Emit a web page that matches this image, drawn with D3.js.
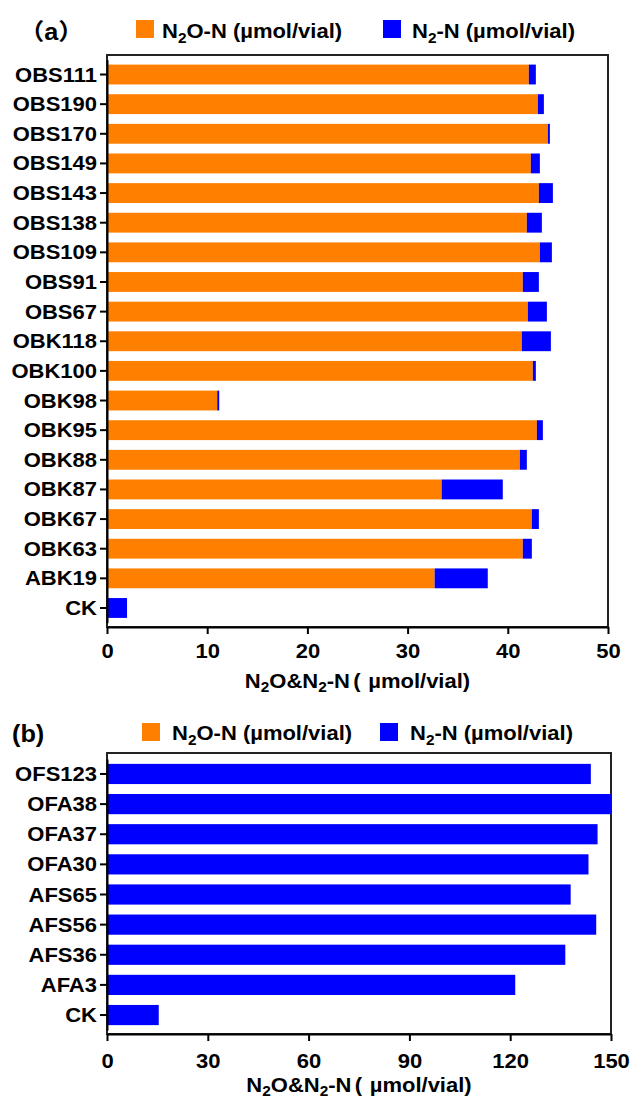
<!DOCTYPE html>
<html>
<head>
<meta charset="utf-8">
<script src="https://cdn.jsdelivr.net/npm/d3@7"></script>
<style>
html,body{margin:0;padding:0;background:#fff;}
text{font-family:"Liberation Sans",Arial,"Noto Sans CJK SC",sans-serif;font-weight:bold;fill:#000;}
</style>
</head>
<body>
<svg id="chart" width="632" height="1100"></svg>
<script>
// ---------- data ----------
const catsA = ["OBS111","OBS190","OBS170","OBS149","OBS143","OBS138","OBS109","OBS91","OBS67","OBK118","OBK100","OBK98","OBK95","OBK88","OBK87","OBK67","OBK63","ABK19","CK"];
const n2oA  = [42.1,43.0,44.0,42.3,43.1,41.9,43.2,41.5,42.0,41.4,42.5,11.0,42.9,41.2,33.4,42.4,41.5,32.7,0];
const n2A   = [0.7,0.6,0.2,0.9,1.4,1.5,1.2,1.6,1.9,2.9,0.3,0.2,0.6,0.7,6.1,0.7,0.9,5.3,2.0];
const ticksA = [0,10,20,30,40,50];

const catsB = ["OFS123","OFA38","OFA37","OFA30","AFS65","AFS56","AFS36","AFA3","CK"];
const n2oB  = [0,0,0,0,0,0,0,0,0];
const n2B   = [144.0,150.0,146.0,143.3,138.0,145.6,136.4,121.5,15.4];
const ticksB = [0,30,60,90,120,150];

const seriesKeys = ["N2O","N2"];
const colors = {N2O:"#FF8000", N2:"#0000FF"};

// ---------- drawing ----------
const svg = d3.select("#chart");
const SX = 1.1; // horizontal stretch of the lettering
const FS = 20;

function stretchText(t, x, y, anchor){
  t.attr("x",0).attr("y",0).attr("dy",null)
   .attr("text-anchor",anchor||"start")
   .attr("transform",`translate(${x},${y}) scale(${SX},1)`);
  return t;
}

function legendLabel(g, x, y, parts){
  const t = g.append("text").style("font-size",FS+"px");
  stretchText(t, x, y, "start");
  parts.forEach(p=>{
    const ts = t.append("tspan").text(p.t);
    if(p.sub){ ts.style("font-size","14px").attr("dy",5); }
    else if(p.after){ ts.attr("dy",-5); }
  });
  return t;
}

function panel(cfg){
  const {cats, n2o, n2, ticks, left, right, top, bottom, bandTop, bandBot, max} = cfg;
  const g = svg.append("g");
  const rows = cats.map((c,i)=>({cat:c, N2O:n2o[i], N2:n2[i]}));
  const stacked = d3.stack().keys(seriesKeys)(rows);

  const x = d3.scaleLinear().domain([0,max]).range([left,right]);
  const y = d3.scaleBand().domain(cats).range([bandTop,bandBot]).paddingInner(0.33).paddingOuter(0.165);

  // frame
  g.append("rect").attr("x",left).attr("y",top).attr("width",right-left).attr("height",bottom-top)
   .attr("fill","none").attr("stroke","#222").attr("stroke-width",2);

  // bars
  g.append("g").selectAll("g").data(stacked).join("g")
    .attr("fill",d=>colors[d.key])
    .selectAll("rect").data(d=>d).join("rect")
    .attr("x",d=>x(d[0]))
    .attr("y",(d,i)=>y(cats[i]))
    .attr("width",d=>Math.max(0, Math.min(x(d[1]),right)-x(d[0])))
    .attr("height",y.bandwidth());

  // y axis
  const ya = g.append("g").attr("transform",`translate(${left},0)`)
    .call(d3.axisLeft(y).tickSize(7).tickSizeOuter(0));
  ya.select(".domain").attr("stroke","#000").attr("stroke-width",2);
  ya.selectAll(".tick line").attr("stroke","#000").attr("stroke-width",2);
  ya.selectAll(".tick text").each(function(){
    stretchText(d3.select(this),-10,7,"end").style("font-size",FS+"px");
  });

  // x axis
  const xa = g.append("g").attr("transform",`translate(0,${bottom})`)
    .call(d3.axisBottom(x).tickValues(ticks).tickSize(7).tickSizeOuter(0));
  xa.select(".domain").attr("stroke","#000").attr("stroke-width",2);
  xa.selectAll(".tick line").attr("stroke","#000").attr("stroke-width",2);
  xa.selectAll(".tick text").each(function(){
    stretchText(d3.select(this),0,cfg.tickBase,"middle").style("font-size",FS+"px");
  });
  ya.attr("font-family",null).attr("font-size",null);
  xa.attr("font-family",null).attr("font-size",null);

  // x title
  const tt = g.append("text").style("font-size",FS+"px");
  stretchText(tt,(left+right)/2, bottom+cfg.titleBase,"middle");
  tt.append("tspan").text("N");
  tt.append("tspan").text("2").style("font-size","14px").attr("dy",4);
  tt.append("tspan").text("O&N").attr("dy",-4);
  tt.append("tspan").text("2").style("font-size","14px").attr("dy",4);
  tt.append("tspan").text("-N").attr("dy",-4);
  tt.append("tspan").text("(").attr("dx",3);
  tt.append("tspan").text("µmol/vial)").attr("dx",7);

  // legend
  const lg = g.append("g");
  const L = cfg.legend;
  lg.append("rect").attr("x",L.sq1).attr("y",L.sqY).attr("width",18).attr("height",18).attr("fill",colors.N2O);
  legendLabel(lg, L.tx1, L.base, [{t:"N"},{t:"2",sub:true},{t:"O-N (µmol/vial)",after:true}]);
  lg.append("rect").attr("x",L.sq2).attr("y",L.sqY).attr("width",18).attr("height",18).attr("fill",colors.N2);
  legendLabel(lg, L.tx2, L.base, [{t:"N"},{t:"2",sub:true},{t:"-N (µmol/vial)",after:true}]);

  const pl = g.append("text").style("font-size","23px").text(cfg.tag);
  stretchText(pl, cfg.tagX, L.base+2, "start");
}

panel({cats:catsA, n2o:n2oA, n2:n2A, ticks:ticksA, max:50,
  left:107, right:608, top:55, bottom:627, bandTop:59.7, bandBot:622.8,
  tickBase:31, titleBase:61,
  legend:{sq1:136, sq2:383, tx1:162, tx2:412, sqY:20, base:38},
  tag:"（a）", tagX:19});

panel({cats:catsB, n2o:n2oB, n2:n2B, ticks:ticksB, max:150,
  left:107, right:611, top:753, bottom:1034, bandTop:758.9, bandBot:1030.1,
  tickBase:34, titleBase:58,
  legend:{sq1:142, sq2:380, tx1:172, tx2:410, sqY:723, base:740},
  tag:"(b)", tagX:12});
</script>
</body>
</html>
